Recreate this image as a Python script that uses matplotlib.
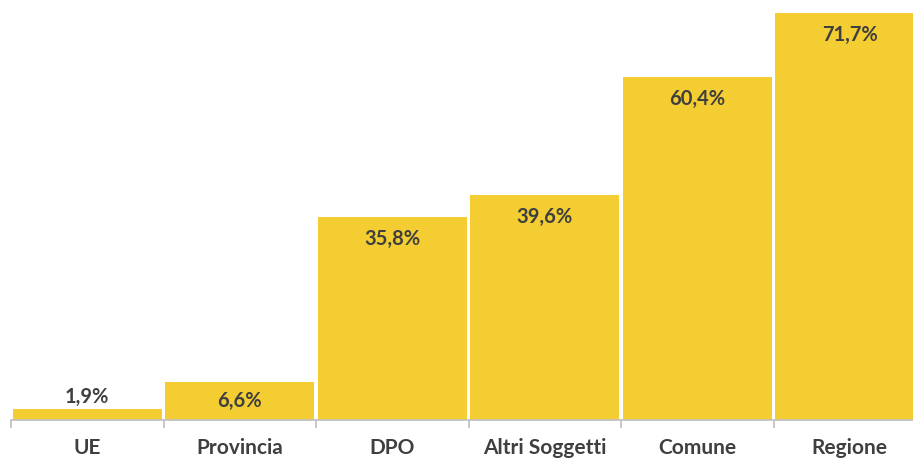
import matplotlib
matplotlib.use("Agg")
import matplotlib.pyplot as plt
import numpy as np

categories = ["UE", "Provincia", "DPO", "Altri Soggetti", "Comune", "Regione"]
values = [1.9, 6.6, 35.8, 39.6, 60.4, 71.7]
value_labels = ["1,9%", "6,6%", "35,8%", "39,6%", "60,4%", "71,7%"]

BAR_COLOR = "#F3CD31"
TEXT_COLOR = "#3F3F3F"
AXIS_COLOR = "#BFBFBF"
FONT = ["Lato", "DejaVu Sans"]

W, H = 913, 459
fig = plt.figure(figsize=(W / 100, H / 100), dpi=100)
# the plot area runs slightly past the right edge of the figure
left_px, right_px = 11, 926
bottom_px, top_px = 39, 451
ax = fig.add_axes([left_px / W, bottom_px / H, (right_px - left_px) / W, (top_px - bottom_px) / H])

x = np.arange(len(categories))
bars = ax.bar(x, values, width=0.975, color=BAR_COLOR, zorder=2)

ax.set_xlim(-0.5, len(categories) - 0.5)
ax.set_ylim(0, 72.5)

for s in ["top", "right", "left"]:
    ax.spines[s].set_visible(False)
ax.spines["bottom"].set_color(AXIS_COLOR)
ax.spines["bottom"].set_linewidth(1.2)
ax.set_yticks([])

ax.set_xticks(x)
ax.set_xticklabels(categories, fontsize=15, fontweight="bold", color=TEXT_COLOR, family=FONT)
ax.tick_params(axis="x", which="major", length=0, pad=13)
ax.set_xticks(np.arange(-0.5, len(categories) + 0.5, 1), minor=True)
ax.tick_params(axis="x", which="minor", length=6, color=AXIS_COLOR, width=1.2)

# pixels per data unit on the y axis
px_per_unit = (top_px - bottom_px) / 72.5
for xi, v, lab in zip(x, values, value_labels):
    h_px = v * px_per_unit
    if h_px > 45:
        y, off = v, -22 * 0.72
    elif h_px > 25:
        y, off = v / 2, 0
    else:
        y, off = v, 12 * 0.72
    ax.annotate(lab, (xi, y), xytext=(0, off), textcoords="offset points",
                ha="center", va="center", fontsize=14.5, fontweight="bold",
                color=TEXT_COLOR, family=FONT, zorder=3)

fig.savefig("out.png", dpi=100)
